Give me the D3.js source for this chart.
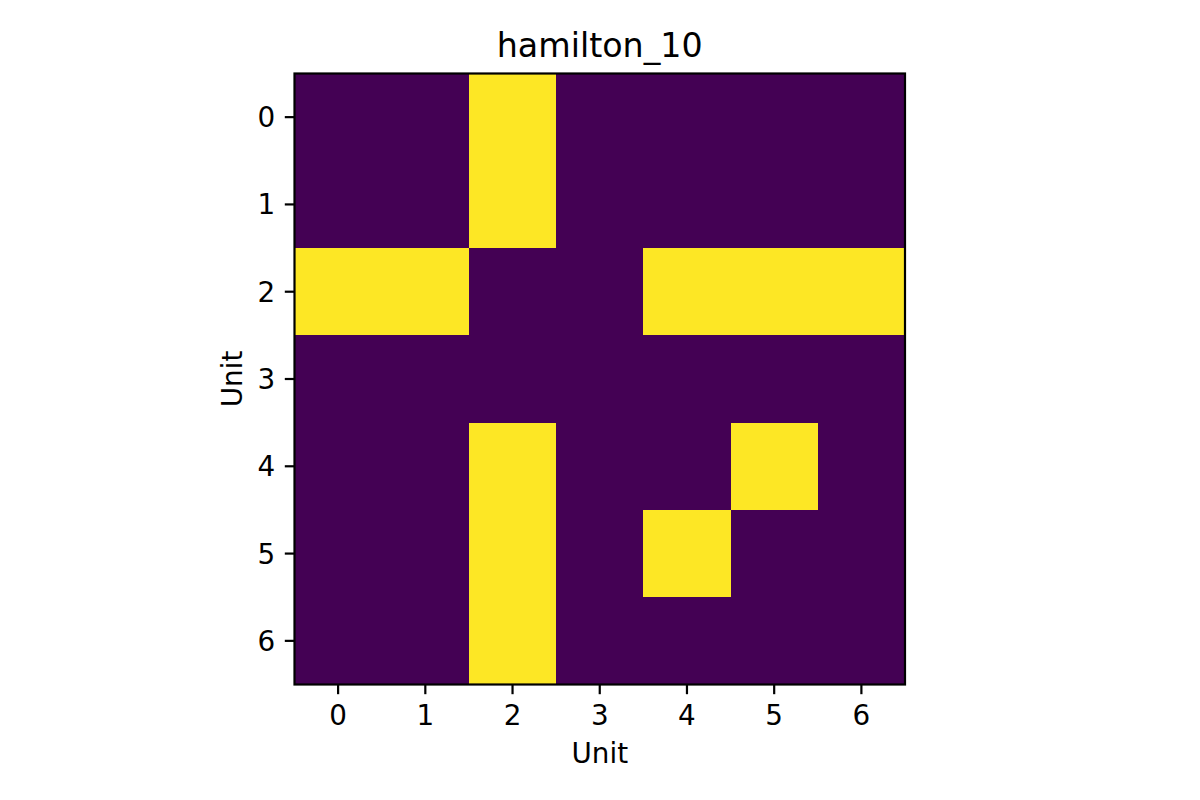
<!DOCTYPE html>
<html>
<head>
<meta charset="utf-8">
<script src="https://cdn.jsdelivr.net/npm/d3@7"></script>
<style>
  html, body { margin: 0; padding: 0; background: #fff; }
  text { font-family: "DejaVu Sans", sans-serif; fill: #000; }
</style>
</head>
<body>
<svg id="chart" width="1200" height="800"></svg>
<script>
const title = "hamilton_10";
const xLabel = "Unit";
const yLabel = "Unit";
const units = [0, 1, 2, 3, 4, 5, 6];
const matrix = [
  [0, 0, 1, 0, 0, 0, 0],
  [0, 0, 1, 0, 0, 0, 0],
  [1, 1, 0, 0, 1, 1, 1],
  [0, 0, 0, 0, 0, 0, 0],
  [0, 0, 1, 0, 0, 1, 0],
  [0, 0, 1, 0, 1, 0, 0],
  [0, 0, 1, 0, 0, 0, 0]
];

const svg = d3.select("#chart");
const mLeft = 294.5, mRight = 905, mTop = 73.5, mBottom = 684.5;

const x = d3.scaleBand().domain(units).range([mLeft, mRight]).padding(0);
const y = d3.scaleBand().domain(units).range([mTop, mBottom]).padding(0);
const color = d3.scaleSequential(d3.interpolateViridis).domain([0, 1]);

const cells = [];
matrix.forEach((row, i) => row.forEach((v, j) => cells.push({ r: units[i], c: units[j], v })));

svg.append("g").selectAll("rect").data(cells).join("rect")
  .attr("x", d => x(d.c))
  .attr("y", d => y(d.r))
  .attr("width", x.bandwidth() + 0.5)
  .attr("height", y.bandwidth() + 0.5)
  .attr("fill", d => color(d.v))
  .attr("shape-rendering", "crispEdges");

// spines
svg.append("rect")
  .attr("x", mLeft).attr("y", mTop)
  .attr("width", mRight - mLeft).attr("height", mBottom - mTop)
  .attr("fill", "none").attr("stroke", "#000").attr("stroke-width", 2.2);

const tickLen = 9.7, pad = 9.7;
const xAxis = d3.axisBottom(x).tickSize(tickLen).tickPadding(pad).tickSizeOuter(0);
const yAxis = d3.axisLeft(y).tickSize(tickLen).tickPadding(pad).tickSizeOuter(0);

const gx = svg.append("g").attr("transform", `translate(0,${mBottom})`).call(xAxis);
const gy = svg.append("g").attr("transform", `translate(${mLeft},0)`).call(yAxis);
[gx, gy].forEach(g => {
  g.select(".domain").remove();
  g.selectAll(".tick line").attr("stroke", "#000").attr("stroke-width", 2.2);
  g.selectAll(".tick text").attr("font-size", "27.8px").attr("font-family", "DejaVu Sans, sans-serif").attr("fill", "#000");
});
gx.selectAll(".tick text").attr("dy", null).attr("y", tickLen + pad).attr("dominant-baseline", "hanging");
gy.selectAll(".tick text").attr("dy", "0.36em");

svg.append("text")
  .attr("x", (mLeft + mRight) / 2).attr("y", 57)
  .attr("text-anchor", "middle")
  .attr("font-size", "33.3px")
  .text(title);

svg.append("text")
  .attr("x", (mLeft + mRight) / 2).attr("y", 763)
  .attr("text-anchor", "middle")
  .attr("font-size", "27.8px")
  .text(xLabel);

svg.append("text")
  .attr("transform", `translate(242,${(mTop + mBottom) / 2}) rotate(-90)`)
  .attr("text-anchor", "middle")
  .attr("font-size", "27.8px")
  .text(yLabel);
</script>
</body>
</html>
